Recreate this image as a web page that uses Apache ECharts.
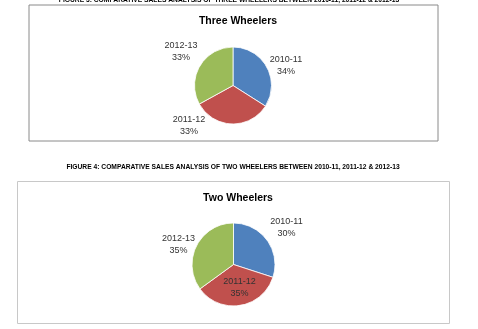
<!DOCTYPE html>
<html>
<head>
<meta charset="utf-8">
<script src="https://cdn.jsdelivr.net/npm/echarts@6/dist/echarts.min.js"></script>
<style>
  html, body { margin: 0; padding: 0; background: #fff; }
  #main { width: 478px; height: 329px; }
</style>
</head>
<body>
<div id="main"></div>
<script>
// years shown in both pies
var years = ['2010-11', '2011-12', '2012-13'];
// share of sales (%)
var threeWheelers = [34, 33, 33];
var twoWheelers = [30, 35, 35];

var colors = ['#4F81BD', '#C0504D', '#9BBB59'];

// label offsets from the pie centre (Excel "best fit" placement)
var threeLabelPos = [[53, -20], [-44, 40], [-52, -34]];
var twoLabelPos = [[53, -37], [6, 23], [-55, -20]];

var chart = echarts.init(document.getElementById('main'));

function pieSeries(name, values, center, radius, labelPos) {
    return {
        name: name,
        type: 'pie',
        center: center,
        radius: radius,
        startAngle: 90,
        clockwise: true,
        animation: false,
        silent: true,
        itemStyle: { borderColor: '#fff', borderWidth: 0.8 },
        label: {
            show: true,
            formatter: '{b}\n{d}%',
            color: '#333',
            fontFamily: 'Liberation Sans',
            fontSize: 9,
            lineHeight: 12,
            align: 'center'
        },
        labelLine: { show: false },
        labelLayout: function (p) {
            var o = labelPos[p.dataIndex];
            return {
                x: center[0] + o[0],
                y: center[1] + o[1],
                align: 'center',
                verticalAlign: 'middle'
            };
        },
        data: years.map(function (y, i) {
            return { name: y, value: values[i] };
        })
    };
}

var captionStyle = {
    fill: '#000',
    font: 'bold 6.7px "Liberation Sans"',
    textAlign: 'center',
    textVerticalAlign: 'middle'
};

function caption(o) {
    for (var k in captionStyle) o[k] = captionStyle[k];
    return o;
}

chart.setOption({
    color: colors,
    title: [{
        text: 'Three Wheelers',
        left: 233, top: 11,
        textAlign: 'center',
        textStyle: { fontFamily: 'Liberation Sans', fontSize: 10.5, fontWeight: 'bold', color: '#000' }
    }, {
        text: 'Two Wheelers',
        left: 233, top: 188,
        textAlign: 'center',
        textStyle: { fontFamily: 'Liberation Sans', fontSize: 10.5, fontWeight: 'bold', color: '#000' }
    }],
    graphic: [
        { type: 'rect', shape: { x: 29, y: 5, width: 409, height: 136 },
          style: { fill: '#fff', stroke: '#8a8a8a', lineWidth: 1 }, z: -1 },
        { type: 'rect', shape: { x: 17.5, y: 181.5, width: 432, height: 142 },
          style: { fill: '#fff', stroke: '#c8c8c8', lineWidth: 1 }, z: -1 },
        { type: 'text', x: 229, y: 0.5,
          style: caption({ text: 'FIGURE 3: COMPARATIVE SALES ANALYSIS OF THREE WHEELERS BETWEEN 2010-11, 2011-12 & 2012-13' }) },
        { type: 'text', x: 233, y: 167,
          style: caption({ text: 'FIGURE 4: COMPARATIVE SALES ANALYSIS OF TWO WHEELERS BETWEEN 2010-11, 2011-12 & 2012-13' }) }
    ],
    series: [
        pieSeries('Three Wheelers', threeWheelers, [233, 85.5], 38.5, threeLabelPos),
        pieSeries('Two Wheelers', twoWheelers, [233.5, 264.5], 41.5, twoLabelPos)
    ]
});

window.addEventListener('resize', function () { chart.resize(); });
</script>
</body>
</html>
